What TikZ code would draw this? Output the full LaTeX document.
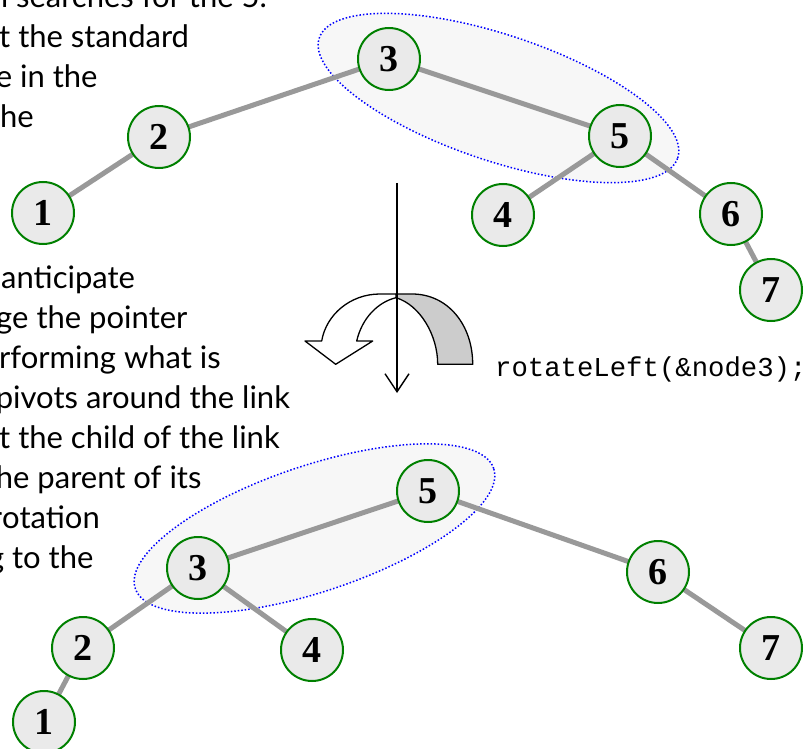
\documentclass[tikz,border=0pt]{standalone}
\usepackage{fontspec}
\setmainfont{Lato}
\newfontfamily\codefont{Liberation Mono}
\newfontfamily\numfont{Liberation Serif}
\usetikzlibrary{arrows.meta,shapes.geometric}
\definecolor{edgegray}{RGB}{153,153,153}
\definecolor{nodefill}{RGB}{234,234,234}
\definecolor{nodering}{RGB}{0,128,0}
\definecolor{groupfill}{RGB}{247,247,247}
\definecolor{backband}{RGB}{204,204,204}
\begin{document}
\begin{tikzpicture}[x=1pt,y=-1pt,
  treenode/.style={circle,draw=nodering,fill=nodefill,line width=2pt,
    minimum size=62pt,inner sep=0pt,font=\numfont\bfseries\fontsize{38}{38}\selectfont},
  link/.style={draw=edgegray,line width=5pt},
  group/.style={ellipse,draw=blue,fill=groupfill,line width=1.5pt,
    dash pattern=on 1.5pt off 2pt,minimum width=378pt,minimum height=126pt,inner sep=0pt},
  prose/.style={anchor=base west,inner sep=0pt,font=\fontsize{31}{31}\selectfont,text=black},
  band/.style={draw=black,line width=1.3pt,line join=round}]
\useasboundingbox (0,0) rectangle (812,749);
\clip (0,0) rectangle (812,749);

% running text along the left margin
\node[prose] (p1) at (8,8) {\llap{n} searches for the 5.};
\node[prose] (p2) at (-1,48) {t the standard};
\node[prose] (p3) at (12,88) {\llap{e} in the};
\node[prose] (p4) at (0,128) {he};
\node[prose] (q1) at (1,288) {anticipate};
\node[prose] (q2) at (12,328) {\llap{g}e the pointer};
\node[prose] (q3) at (-1,368) {rforming what is};
\node[prose] (q4) at (13,408) {\llap{p}ivots around the link};
\node[prose] (q5) at (-1,448) {t the child of the link};
\node[prose] (q6) at (13,488) {\llap{h}e parent of its};
\node[prose] (q7) at (2,528) {\llap{r}otation};
\node[prose] (q8) at (4,568) {\llap{g} to the};

% highlighted pairs
\node[group,rotate=-18.5] (g1) at (498.5,98) {};
\node[group,rotate=18.5] (g2) at (314.5,528.5) {};

% tree before the rotation
\coordinate (a3) at (389,59);
\coordinate (a2) at (159,137);
\coordinate (a1) at (43,213);
\coordinate (a5) at (620,136);
\coordinate (a4) at (503,215);
\coordinate (a6) at (731,214);
\coordinate (a7) at (771,290);
\draw[link] (a3) -- (a2) (a2) -- (a1) (a3) -- (a5) (a5) -- (a4) (a5) -- (a6) (a6) -- (a7);
\foreach \k in {1,...,7} { \node[treenode] (ta\k) at (a\k) {\k}; }

% tree after the rotation
\coordinate (b5) at (428,491);
\coordinate (b3) at (198,568);
\coordinate (b2) at (83,648);
\coordinate (b1) at (44,722);
\coordinate (b4) at (312,650);
\coordinate (b6) at (658,572);
\coordinate (b7) at (771,648);
\draw[link] (b5) -- (b3) (b3) -- (b2) (b2) -- (b1) (b3) -- (b4) (b5) -- (b6) (b6) -- (b7);
\foreach \k in {1,...,7} { \node[treenode] (tb\k) at (b\k) {\k}; }

% turning arrow: shaded back band and open front band
\coordinate (peak) at (396,297.7);
\draw[band,fill=backband] (396,294) -- (412,294)
  .. controls (448,294) and (472.7,325) .. (472.7,364.3)
  -- (437.7,364.3)
  .. controls (437.7,335) and (420,305) .. (peak) -- cycle;
\draw[band,fill=white] (396,294) -- (380,294)
  .. controls (350,294) and (326,315) .. (321.7,341)
  -- (305,341) -- (335.7,364.3) -- (372.7,341) -- (356.7,341)
  .. controls (362,318) and (378,302) .. (peak) -- cycle;

% direction of the transformation
\coordinate (axtop) at (397,183);
\coordinate (axbot) at (397,393);
\draw[line width=1.4pt,-{Straight Barb[length=18pt,width=24pt,line width=1.4pt]}] (axtop) -- (axbot);

% call performing the rotation
\node[anchor=base west,inner sep=0pt,font=\codefont\fontsize{27.3}{27.3}\selectfont] (call) at (495,376) {rotateLeft(\&node3);};
\end{tikzpicture}
\end{document}
